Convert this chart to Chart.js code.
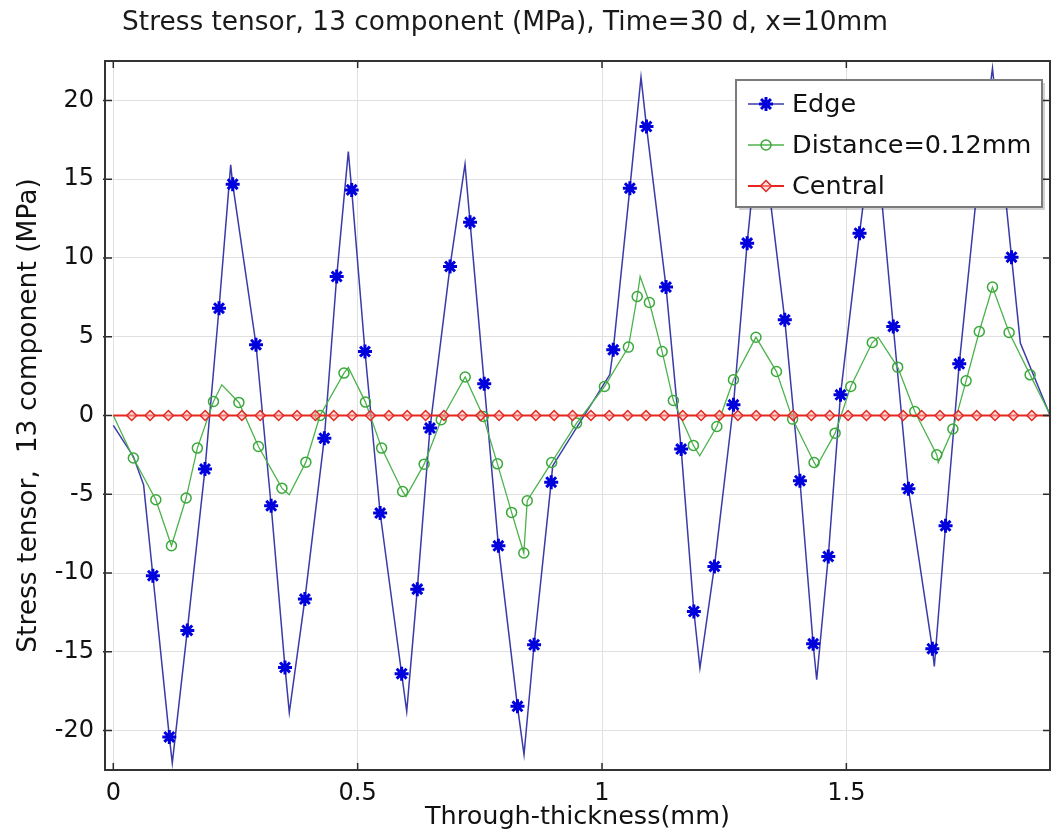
<!DOCTYPE html>
<html><head><meta charset="utf-8">
<script src="https://cdn.jsdelivr.net/npm/chart.js@4.4.1/dist/chart.umd.min.js"></script>
<style>html,body{margin:0;padding:0;background:#fff;overflow:hidden}#wrap{width:1051px;height:835px}</style>
</head><body><div id="wrap"><canvas id="c" width="1051" height="835"></canvas></div>
<script>
const titleText = 'Stress tensor, 13 component (MPa), Time=30 d, x=10mm';
const xAxisTitle = 'Through-thickness(mm)';
const yAxisTitle = 'Stress tensor,  13 component (MPa)';
const seriesNames = ['Edge', 'Distance=0.12mm', 'Central'];
const xTickValues = [0, 0.5, 1, 1.5];
const yTickValues = [-20, -15, -10, -5, 0, 5, 10, 15, 20];

// Edge: line vertices and marker positions
const edgeLineX = [0,0.041,0.062,0.081,0.1146,0.1207,0.1514,0.1876,0.2163,0.2402,0.2443,0.292,0.323,0.3513,0.3601,0.392,0.4318,0.4571,0.4809,0.4878,0.515,0.546,0.590,0.6004,0.622,0.648,0.689,0.7197,0.730,0.759,0.788,0.827,0.8404,0.861,0.896,0.899,1.016,1.023,1.057,1.0798,1.091,1.131,1.162,1.188,1.2004,1.230,1.269,1.297,1.324,1.330,1.374,1.405,1.432,1.4393,1.463,1.488,1.527,1.556,1.567,1.596,1.627,1.676,1.680,1.703,1.731,1.766,1.799,1.805,1.838,1.856,1.917];
const edgeLineY = [-0.63,-2.6,-4.4,-10.17,-20.4,-22.06,-13.64,-3.40,6.81,15.91,14.68,4.49,-5.73,-15.99,-18.85,-11.65,-1.44,8.82,16.75,14.32,4.06,-6.19,-16.39,-18.78,-11.02,-0.80,9.46,15.95,12.27,2.01,-8.27,-18.46,-21.53,-14.55,-4.23,-3.2,2.6,4.17,14.43,21.47,18.34,8.15,-2.13,-12.44,-16.03,-9.58,0.68,10.94,19.3,17.36,6.07,-4.14,-14.49,-16.77,-8.95,1.31,11.57,18.7,15.53,5.65,-4.65,-14.8,-15.93,-7.0,3.28,13.9,22.04,20.2,10.05,4.6,0];
const edgeMarkX = [0.081,0.1146,0.1514,0.1876,0.2163,0.2443,0.292,0.323,0.3513,0.392,0.4318,0.4571,0.4878,0.515,0.546,0.590,0.622,0.648,0.689,0.730,0.759,0.788,0.827,0.861,0.896,1.023,1.057,1.091,1.131,1.162,1.188,1.230,1.269,1.297,1.330,1.374,1.405,1.432,1.463,1.488,1.527,1.567,1.596,1.627,1.676,1.703,1.731,1.766,1.805,1.838];
const edgeMarkY = [-10.17,-20.4,-13.64,-3.40,6.81,14.68,4.49,-5.73,-15.99,-11.65,-1.44,8.82,14.32,4.06,-6.19,-16.39,-11.02,-0.80,9.46,12.27,2.01,-8.27,-18.46,-14.55,-4.23,4.17,14.43,18.34,8.15,-2.13,-12.44,-9.58,0.68,10.94,17.36,6.07,-4.14,-14.49,-8.95,1.31,11.57,15.53,5.65,-4.65,-14.8,-7.0,3.28,13.9,20.2,10.05];

// Distance=0.12mm
const distLineX = [0,0.041,0.087,0.119,0.149,0.172,0.205,0.222,0.257,0.297,0.345,0.360,0.394,0.423,0.472,0.481,0.516,0.549,0.592,0.599,0.636,0.671,0.720,0.757,0.786,0.815,0.840,0.847,0.897,0.948,1.005,1.054,1.072,1.078,1.097,1.123,1.146,1.187,1.200,1.235,1.269,1.315,1.357,1.390,1.434,1.439,1.477,1.509,1.553,1.565,1.605,1.640,1.685,1.688,1.718,1.745,1.772,1.799,1.833,1.876,1.917];
const distLineY = [0,-2.70,-5.35,-8.27,-5.24,-2.07,0.89,1.95,0.83,-1.97,-4.61,-5.03,-2.96,0,2.69,3.05,0.85,-2.07,-4.82,-5.14,-3.09,-0.27,2.44,-0.06,-3.07,-6.15,-8.73,-5.41,-2.98,-0.48,1.84,4.34,7.55,8.82,7.17,4.06,0.95,-1.90,-2.56,-0.70,2.27,4.97,2.79,-0.23,-2.98,-3.24,-1.12,1.84,4.63,4.97,3.07,0.25,-2.49,-2.98,-0.86,2.20,5.33,8.15,5.27,2.58,0.05];
const distMarkX = [0.041,0.087,0.119,0.149,0.172,0.205,0.257,0.297,0.345,0.394,0.423,0.472,0.516,0.549,0.592,0.636,0.671,0.720,0.757,0.786,0.815,0.840,0.847,0.897,0.948,1.005,1.054,1.072,1.097,1.123,1.146,1.187,1.235,1.269,1.315,1.357,1.390,1.434,1.477,1.509,1.553,1.605,1.640,1.685,1.718,1.745,1.772,1.799,1.833,1.876];
const distMarkY = [-2.70,-5.35,-8.27,-5.24,-2.07,0.89,0.83,-1.97,-4.61,-2.96,0,2.69,0.85,-2.07,-4.82,-3.09,-0.27,2.44,-0.06,-3.07,-6.15,-8.73,-5.41,-2.98,-0.48,1.84,4.34,7.55,7.17,4.06,0.95,-1.90,-0.70,2.27,4.97,2.79,-0.23,-2.98,-1.12,1.84,4.63,3.07,0.25,-2.49,-0.86,2.20,5.33,8.15,5.27,2.58];

// Central
const centralLineX = [0, 1.917];
const centralLineY = [0, 0];
const centralMarkX = [0.0376,0.0752,0.1128,0.1504,0.1880,0.2255,0.2631,0.3007,0.3383,0.3759,0.4135,0.4511,0.4887,0.5262,0.5638,0.6014,0.6390,0.6766,0.7142,0.7518,0.7894,0.8269,0.8645,0.9021,0.9397,0.9773,1.0149,1.0525,1.0901,1.1276,1.1652,1.2028,1.2404,1.2780,1.3156,1.3532,1.3908,1.4284,1.4659,1.5035,1.5411,1.5787,1.6163,1.6539,1.6915,1.7291,1.7666,1.8042,1.8418,1.8794];
const centralMarkY = [0,0,0,0,0,0,0,0,0,0,0,0,0,0,0,0,0,0,0,0,0,0,0,0,0,0,0,0,0,0,0,0,0,0,0,0,0,0,0,0,0,0,0,0,0,0,0,0,0,0];

const FONT = 'DejaVu Sans';
const pts = (xs, ys) => xs.map((x, i) => ({x: x, y: ys[i]}));

const styles = {
  edge: {line: '#3a3aaa', mark: '#0000dd'},
  dist: {line: '#4cb34c', mark: '#3aa83a'},
  central: {line: '#e8261e', mark: '#e02a22'}
};

function drawMarker(ctx, kind, x, y) {
  ctx.save();
  if (kind === 'star') {
    ctx.strokeStyle = styles.edge.mark; ctx.lineWidth = 3;
    const r = 7;
    ctx.beginPath();
    for (let k = 0; k < 4; k++) {
      const a = k * Math.PI / 4;
      ctx.moveTo(x - r * Math.cos(a), y - r * Math.sin(a));
      ctx.lineTo(x + r * Math.cos(a), y + r * Math.sin(a));
    }
    ctx.stroke();
  } else if (kind === 'circle') {
    ctx.strokeStyle = styles.dist.mark; ctx.lineWidth = 1.5;
    ctx.beginPath(); ctx.arc(x, y, 5, 0, Math.PI * 2); ctx.stroke();
  } else {
    ctx.strokeStyle = styles.central.mark; ctx.lineWidth = 1.5;
    ctx.fillStyle = 'rgba(255,190,190,0.5)';
    const r = 5.5;
    ctx.beginPath(); ctx.moveTo(x, y - r); ctx.lineTo(x + r, y); ctx.lineTo(x, y + r); ctx.lineTo(x - r, y); ctx.closePath();
    ctx.fill(); ctx.stroke();
  }
  ctx.restore();
}

const decorPlugin = {
  id: 'decor',
  afterDatasetsDraw(chart) {
    const {ctx, chartArea: a, scales} = chart;
    const xs = scales.x, ys = scales.y;
    ctx.save();
    ctx.strokeStyle = '#2a2a2a';
    ctx.lineWidth = 1.5;
    ctx.beginPath();
    xTickValues.forEach(v => {
      const px = xs.getPixelForValue(v);
      ctx.moveTo(px, a.bottom); ctx.lineTo(px, a.bottom - 7);
      ctx.moveTo(px, a.top); ctx.lineTo(px, a.top + 7);
    });
    yTickValues.forEach(v => {
      const py = ys.getPixelForValue(v);
      ctx.moveTo(a.left - 2, py); ctx.lineTo(a.left + 7, py);
      ctx.moveTo(a.right, py); ctx.lineTo(a.right - 7, py);
    });
    ctx.stroke();
    ctx.lineWidth = 2;
    ctx.strokeStyle = '#333';
    ctx.strokeRect(a.left, a.top, a.right - a.left, a.bottom - a.top);
    ctx.restore();
  },
  afterDraw(chart) {
    const ctx = chart.ctx;
    ctx.save();
    // title
    ctx.fillStyle = '#1a1a1a';
    ctx.font = '26.4px "' + FONT + '"';
    ctx.textAlign = 'center';
    ctx.textBaseline = 'middle';
    ctx.fillText(titleText, 505, 23);
    // legend
    const bx = 736, by = 80, bw = 306, bh = 127;
    ctx.fillStyle = 'rgba(0,0,0,0.18)';
    ctx.fillRect(bx + 3, by + 3, bw, bh);
    ctx.fillStyle = '#fff';
    ctx.fillRect(bx, by, bw, bh);
    ctx.strokeStyle = '#7a7a7a';
    ctx.lineWidth = 2;
    ctx.strokeRect(bx, by, bw, bh);
    const rows = [104, 145, 186];
    const kinds = ['star', 'circle', 'diamond'];
    const cols = [styles.edge.line, styles.dist.line, styles.central.line];
    const lw = [1.5, 1.3, 2];
    rows.forEach((ry, i) => {
      ctx.strokeStyle = cols[i]; ctx.lineWidth = lw[i];
      ctx.beginPath(); ctx.moveTo(748, ry); ctx.lineTo(784, ry); ctx.stroke();
      drawMarker(ctx, kinds[i], 766, ry);
      ctx.fillStyle = '#111';
      ctx.font = '25.5px "' + FONT + '"';
      ctx.textAlign = 'left';
      ctx.textBaseline = 'middle';
      ctx.fillText(seriesNames[i], 792, ry + 1);
    });
    ctx.restore();
  }
};

const tickFont = {family: FONT, size: 24};
new Chart(document.getElementById('c').getContext('2d'), {
  type: 'scatter',
  data: {
    datasets: [
      {label: seriesNames[0] + ' markers', data: pts(edgeMarkX, edgeMarkY), showLine: false,
       pointStyle: 'star', pointRadius: 7, pointBorderWidth: 3, pointBorderColor: styles.edge.mark,
       pointBackgroundColor: styles.edge.mark, order: 0},
      {label: seriesNames[2] + ' markers', data: pts(centralMarkX, centralMarkY), showLine: false,
       pointStyle: 'rectRot', pointRadius: 5, pointBorderWidth: 1.5, pointBorderColor: styles.central.mark,
       pointBackgroundColor: 'rgba(255,190,190,0.5)', order: 1},
      {label: seriesNames[2], data: pts(centralLineX, centralLineY), showLine: true, pointRadius: 0,
       borderColor: styles.central.line, borderWidth: 2, order: 2},
      {label: seriesNames[1] + ' markers', data: pts(distMarkX, distMarkY), showLine: false,
       pointStyle: 'circle', pointRadius: 5, pointBorderWidth: 1.5, pointBorderColor: styles.dist.mark,
       pointBackgroundColor: 'rgba(255,255,255,0)', order: 3},
      {label: seriesNames[1], data: pts(distLineX, distLineY), showLine: true, pointRadius: 0,
       borderColor: styles.dist.line, borderWidth: 1.3, order: 4},
      {label: seriesNames[0], data: pts(edgeLineX, edgeLineY), showLine: true, pointRadius: 0,
       borderColor: styles.edge.line, borderWidth: 1.5, order: 5}
    ]
  },
  options: {
    responsive: false, animation: false, devicePixelRatio: 1,
    layout: {autoPadding: false, padding: {top: 61, right: 1, left: 0, bottom: 0}},
    plugins: {legend: {display: false}, title: {display: false}, tooltip: {enabled: false}},
    elements: {line: {tension: 0, fill: false}},
    scales: {
      x: {
        type: 'linear', min: -0.017, max: 1.9167,
        afterFit(s) { s.height = 65; s.paddingLeft = 0; s.paddingRight = 0; },
        afterBuildTicks(s) { s.ticks = xTickValues.map(v => ({value: v})); },
        ticks: {font: tickFont, color: '#111', padding: 9, maxRotation: 0, autoSkip: false,
                callback: v => String(v)},
        grid: {color: '#e0e0e0', lineWidth: 1, drawTicks: false},
        border: {display: false},
        title: {display: true, text: xAxisTitle, color: '#111', font: {family: FONT, size: 25.5},
                padding: {top: 0, bottom: 2}}
      },
      y: {
        type: 'linear', min: -22.5, max: 22.5,
        afterFit(s) { s.width = 105; s.paddingTop = 0; s.paddingBottom = 0; },
        afterBuildTicks(s) { s.ticks = yTickValues.map(v => ({value: v})); },
        ticks: {font: tickFont, color: '#111', padding: 11, autoSkip: false,
                callback: v => String(v)},
        grid: {color: '#e0e0e0', lineWidth: 1, drawTicks: false},
        border: {display: false},
        title: {display: true, text: yAxisTitle, color: '#111', font: {family: FONT, size: 26.5},
                padding: {top: 13, bottom: 0}}
      }
    }
  },
  plugins: [decorPlugin]
});
</script>
</body></html>
